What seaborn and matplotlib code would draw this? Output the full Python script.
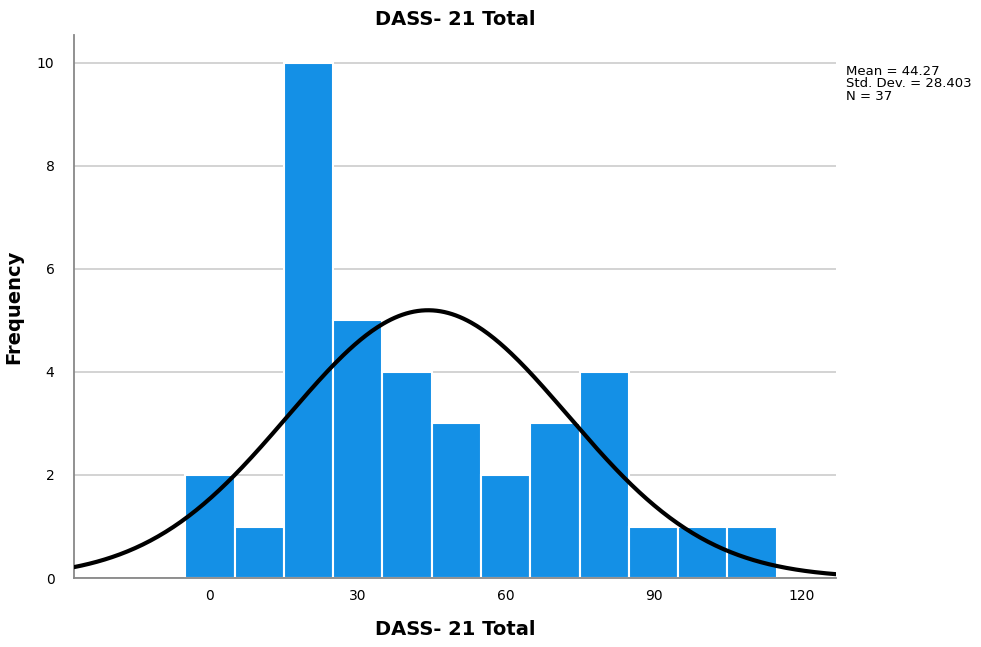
import numpy as np
import pandas as pd
import matplotlib
matplotlib.use("Agg")
import matplotlib.pyplot as plt
import seaborn as sns

bin_centers = [0, 10, 20, 30, 40, 50, 60, 70, 80, 90, 100, 110]
counts = [2, 1, 10, 5, 4, 3, 2, 3, 4, 1, 1, 1]
bin_edges = [-5, 5, 15, 25, 35, 45, 55, 65, 75, 85, 95, 105, 115]
mean_val = 44.27
sd_val = 28.403
n_val = 37
bin_width = 10
x_ticks = [0, 30, 60, 90, 120]
y_ticks = [0, 2, 4, 6, 8, 10]

sns.set_style("white")
plt.rcParams['font.family'] = ['DejaVu Sans']
plt.rcParams['text.color'] = 'black'
plt.rcParams['axes.labelcolor'] = 'black'

fig = plt.figure(figsize=(9.81, 6.47), dpi=100)
ax = fig.add_axes([0.0754, 0.1066, 0.7766, 0.8394])

df = pd.DataFrame({"x": bin_centers, "w": counts})
sns.histplot(data=df, x="x", weights="w", bins=bin_edges, ax=ax,
             color="#1490E6", alpha=1.0, edgecolor="white", linewidth=1.5, zorder=2)

xs = np.linspace(-27.6, 127, 400)
ys = n_val * bin_width * np.exp(-0.5 * ((xs - mean_val) / sd_val) ** 2) / (sd_val * np.sqrt(2 * np.pi))
sns.lineplot(x=xs, y=ys, ax=ax, color="black", linewidth=3, zorder=3)

ax.set_xlim(-27.6, 127)
ax.set_ylim(0, 10.54)
ax.set_xticks(x_ticks)
ax.set_yticks(y_ticks)
ax.yaxis.grid(True, color="#cccccc", linewidth=1.2, zorder=0)
ax.set_axisbelow(True)
for s in ["top", "right"]:
    ax.spines[s].set_visible(False)
for s in ["left", "bottom"]:
    ax.spines[s].set_color("#888888")
    ax.spines[s].set_linewidth(1.3)
ax.tick_params(axis="both", length=0, labelsize=10, colors="black", pad=8)
ax.tick_params(axis="y", pad=14)

ax.set_xlabel("DASS- 21 Total", fontsize=14, fontweight="bold", labelpad=12)
ax.set_ylabel("Frequency", fontsize=14, fontweight="bold", labelpad=10)
ax.set_title("DASS- 21 Total", fontsize=14, fontweight="bold", pad=7, color="black")

fig.text(0.862, 0.900, f"Mean = {mean_val:.2f}\nStd. Dev. = {sd_val:.3f}\nN = {n_val}",
         fontsize=9.5, va="top", ha="left", linespacing=0.95)

fig.savefig("out.png", dpi=100)
